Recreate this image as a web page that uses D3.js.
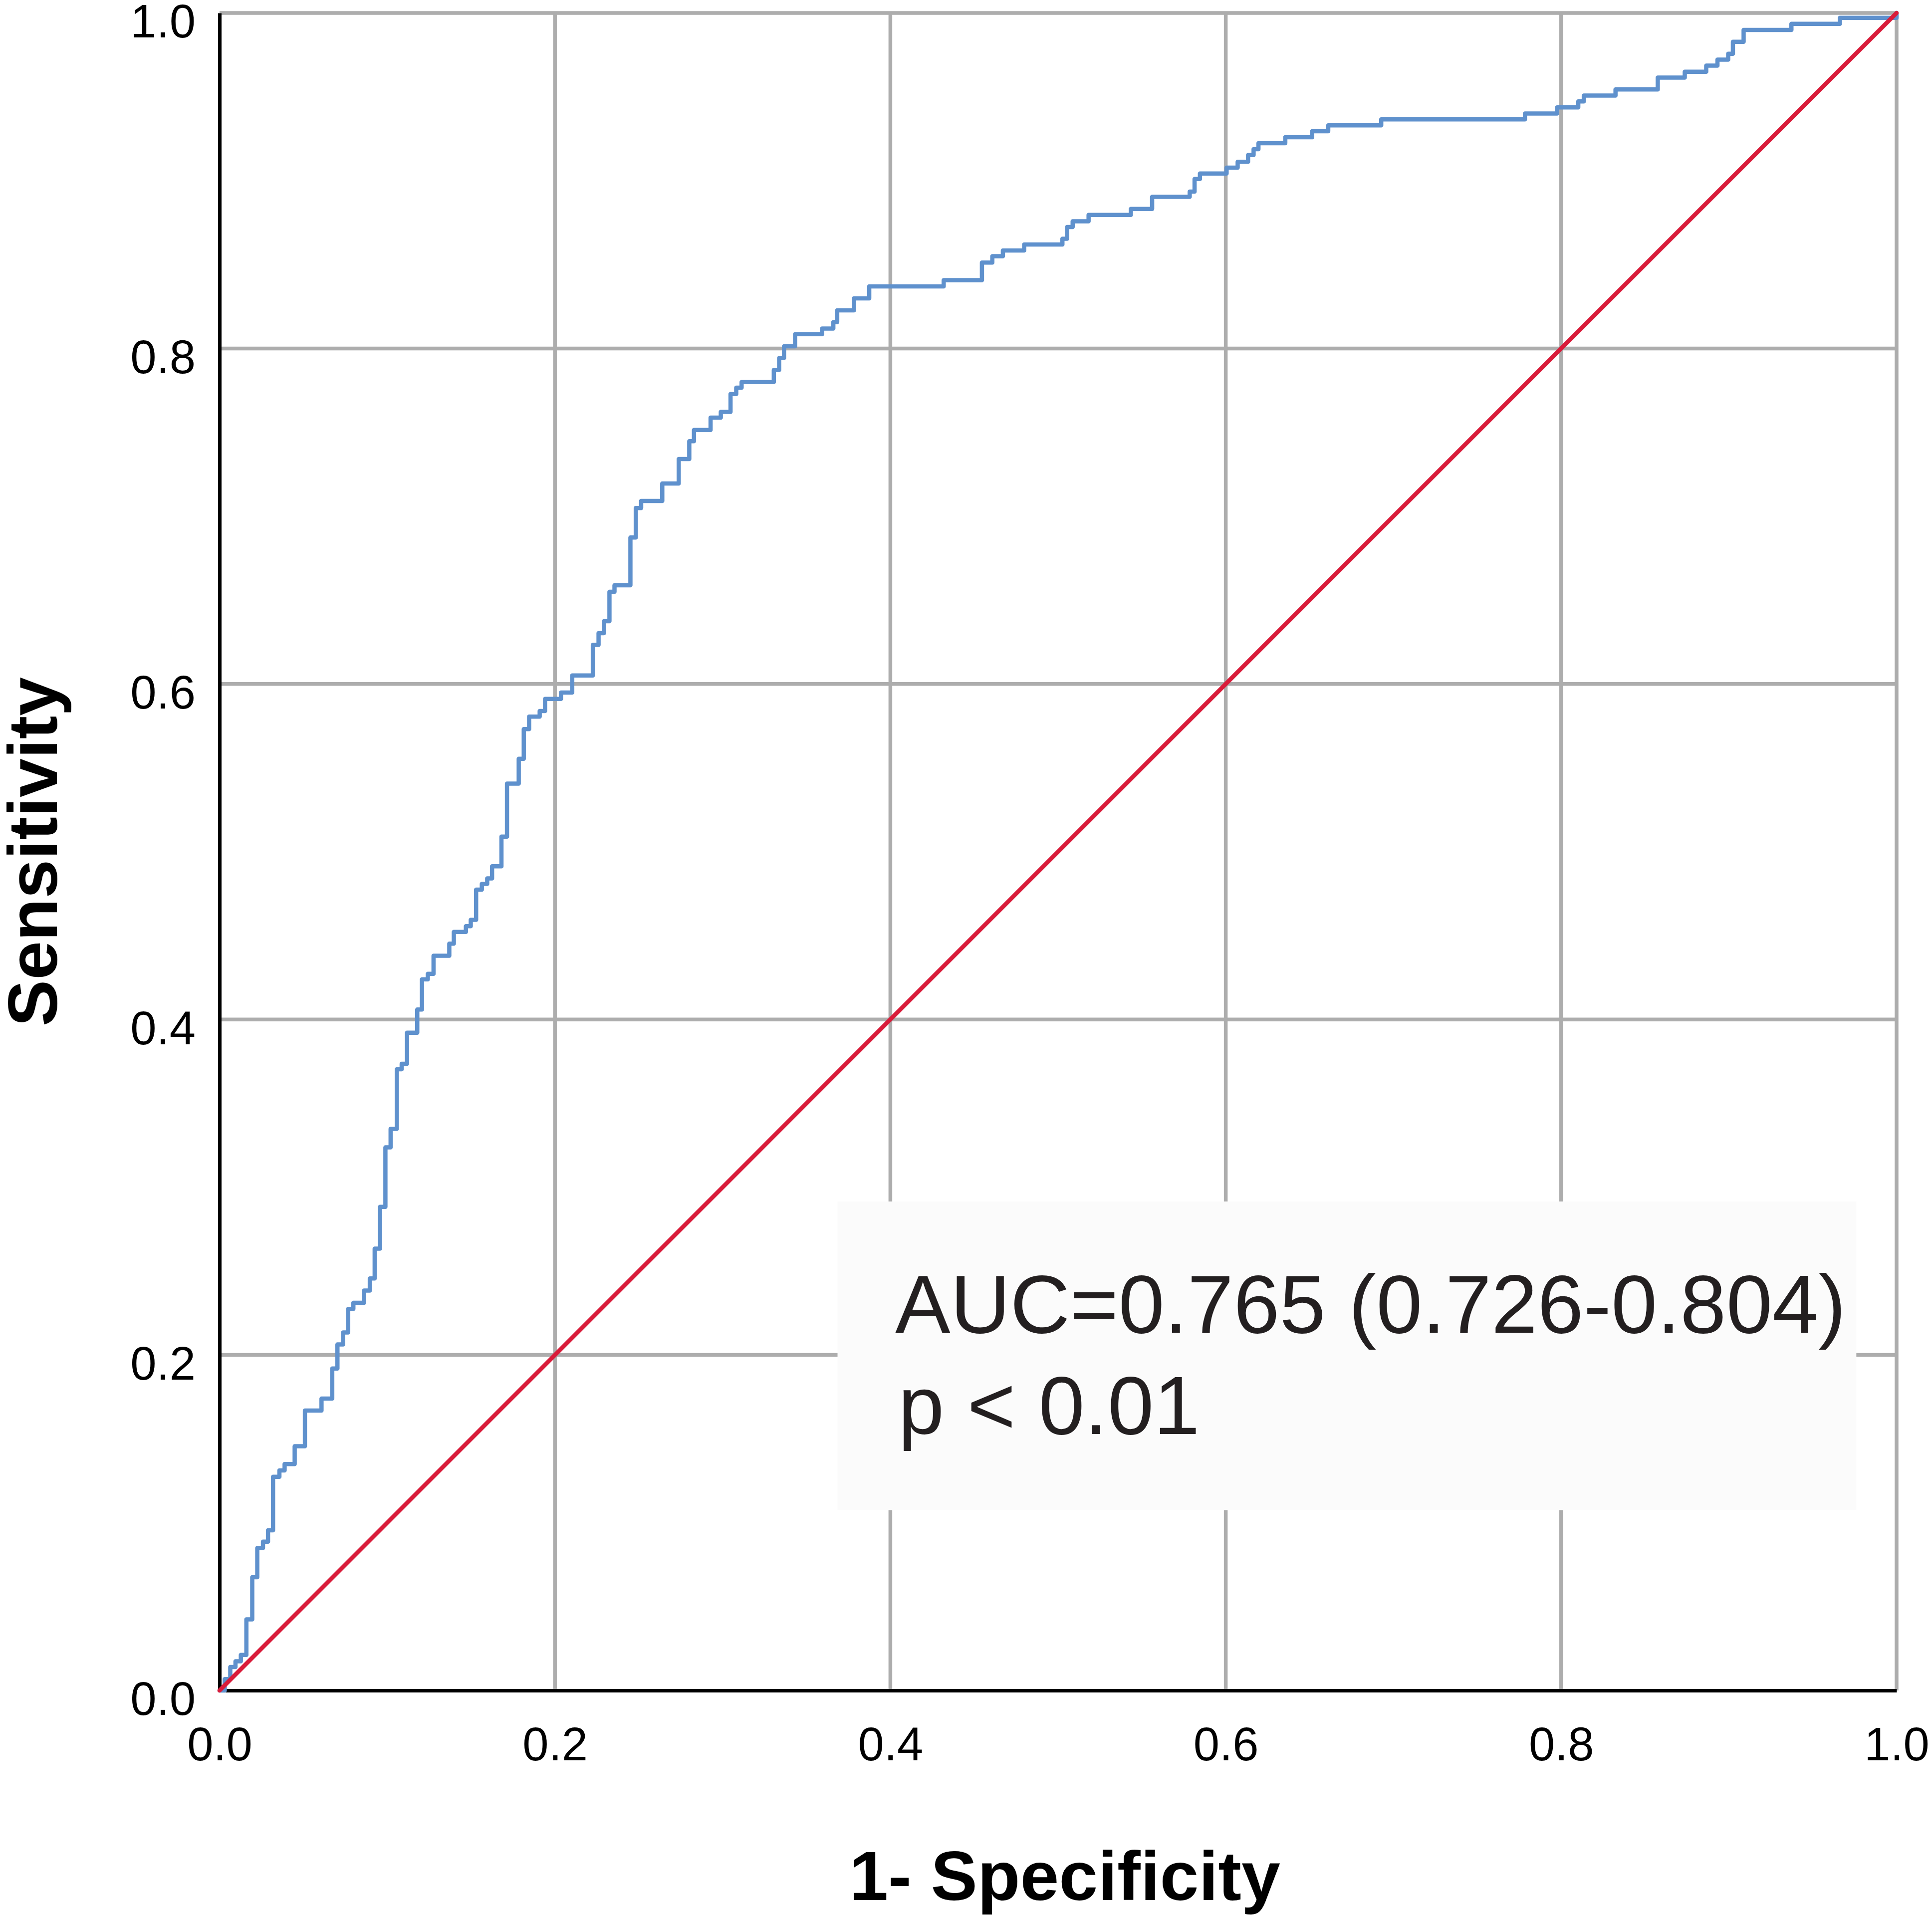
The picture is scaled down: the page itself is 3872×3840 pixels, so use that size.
<!DOCTYPE html>
<html lang="en">
<head>
    <meta charset="UTF-8">
    <title>ROC curve</title>
    <script src="https://d3js.org/d3.v7.min.js"></script>
</head>
<style>
    html,body{
        padding:0px;
        margin:0px;
        background:#ffffff;
    }
    svg text{
        font-family:"Liberation Sans",Arial,sans-serif;
    }
</style>
<body>
<div id="chart"></div>
<script>

    // 1 - specificity at each step of the ROC curve
    var fpr = [0, 0.0031, 0.0064, 0.0095, 0.0127, 0.0160, 0.0195, 0.0225, 0.0259, 0.0289,
        0.0319, 0.0357, 0.0388, 0.0448, 0.0509, 0.0608, 0.0672, 0.0703, 0.0737, 0.0767,
        0.0798, 0.0862, 0.0896, 0.0925, 0.0957, 0.0989, 0.1020, 0.1057, 0.1086, 0.1118,
        0.1179, 0.1207, 0.1242, 0.1276, 0.1370, 0.1397, 0.1469, 0.1498, 0.1530, 0.1564,
        0.1596, 0.1625, 0.1681, 0.1714, 0.1784, 0.1814, 0.1846, 0.1909, 0.1941, 0.2036,
        0.2103, 0.2226, 0.2260, 0.2292, 0.2325, 0.2355, 0.2450, 0.2482, 0.2514, 0.2640,
        0.2738, 0.2801, 0.2829, 0.2928, 0.2989, 0.3047, 0.3081, 0.3113, 0.3305, 0.3337,
        0.3366, 0.3432, 0.3593, 0.3660, 0.3683, 0.3783, 0.3874, 0.4318, 0.4546, 0.4608,
        0.4671, 0.4798, 0.5026, 0.5054, 0.5087, 0.5182, 0.5434, 0.5561, 0.5785, 0.5814,
        0.5846, 0.6005, 0.6071, 0.6133, 0.6166, 0.6195, 0.6355, 0.6515, 0.6611, 0.6927,
        0.7784, 0.7976, 0.8102, 0.8135, 0.8324, 0.8576, 0.8737, 0.8865, 0.8932, 0.8996,
        0.9024, 0.9088, 0.9373, 0.9662, 1.0];
    // sensitivity reached at each step
    var tpr = [0, 0.0068, 0.0140, 0.0174, 0.0212, 0.0424, 0.0675, 0.0849, 0.0887, 0.0955,
        0.1274, 0.1312, 0.1350, 0.1456, 0.1669, 0.1740, 0.1919, 0.2063, 0.2134, 0.2275,
        0.2311, 0.2384, 0.2456, 0.2634, 0.2883, 0.3238, 0.3348, 0.3703, 0.3736, 0.3921,
        0.4059, 0.4239, 0.4272, 0.4380, 0.4452, 0.4522, 0.4556, 0.4594, 0.4774, 0.4808,
        0.4841, 0.4913, 0.5090, 0.5406, 0.5554, 0.5731, 0.5805, 0.5839, 0.5911, 0.5949,
        0.6051, 0.6233, 0.6303, 0.6374, 0.6550, 0.6588, 0.6873, 0.7049, 0.7091, 0.7195,
        0.7341, 0.7447, 0.7514, 0.7588, 0.7622, 0.7728, 0.7766, 0.7800, 0.7872, 0.7943,
        0.8013, 0.8085, 0.8119, 0.8157, 0.8227, 0.8299, 0.8370, 0.8407, 0.8512, 0.8550,
        0.8584, 0.8620, 0.8654, 0.8724, 0.8758, 0.8796, 0.8832, 0.8904, 0.8935, 0.9010,
        0.9043, 0.9078, 0.9113, 0.9153, 0.9188, 0.9224, 0.9259, 0.9295, 0.9330, 0.9366,
        0.9401, 0.9437, 0.9473, 0.9508, 0.9544, 0.9615, 0.9650, 0.9686, 0.9722, 0.9757,
        0.9828, 0.9899, 0.9935, 0.9971, 1.0];

    var refLine = [[0, 0], [1, 1]];
    var ticks = [0, 0.2, 0.4, 0.6, 0.8, 1.0];
    var gridTicks = [0.2, 0.4, 0.6, 0.8, 1.0];
    var xTitle = "1- Specificity";
    var yTitle = "Sensitivity";
    var notes = ["AUC=0.765 (0.726-0.804)", "p < 0.01"];

    var W = 3872, H = 3840;
    // plot edges (window.top is read only, so no "top" here)
    var pLeft = 440, pRight = 3801, pTop = 26, pBottom = 3388;

    var x = d3.scaleLinear().domain([0, 1]).range([pLeft, pRight]);
    var y = d3.scaleLinear().domain([0, 1]).range([pBottom, pTop]);

    var svg = d3.select("#chart")
        .append("svg")
        .attr("width", W)
        .attr("height", H)
        .attr("viewBox", "0 0 " + W + " " + H);

    svg.append("rect").attr("width", W).attr("height", H).attr("fill", "#ffffff");

    // grid
    var grid = svg.append("g").attr("id", "grid");
    grid.selectAll("line.h")
        .data(gridTicks)
        .enter().append("line")
        .attr("class", "h")
        .attr("x1", pLeft).attr("x2", pRight)
        .attr("y1", function(d){ return y(d); })
        .attr("y2", function(d){ return y(d); })
        .attr("stroke", "#adadad")
        .attr("stroke-width", 7.5);
    grid.selectAll("line.v")
        .data(gridTicks)
        .enter().append("line")
        .attr("class", "v")
        .attr("y1", pTop).attr("y2", pBottom)
        .attr("x1", function(d){ return x(d); })
        .attr("x2", function(d){ return x(d); })
        .attr("stroke", "#adadad")
        .attr("stroke-width", 7.5);

    // text box hides the grid behind it
    svg.append("rect")
        .attr("x", x(0.3685))
        .attr("y", y(0.2915))
        .attr("width", x(0.976) - x(0.3685))
        .attr("height", y(0.1075) - y(0.2915))
        .attr("fill", "#fbfbfb");

    svg.append("g")
        .selectAll("text")
        .data(notes)
        .enter().append("text")
        .attr("x", function(d, i){ return i == 0 ? 1794 : 1800; })
        .attr("y", function(d, i){ return 2671 + i * 203; })
        .attr("font-size", 166)
        .attr("fill", "#231f20")
        .text(function(d){ return d; });

    // axes
    var xAxis = d3.axisBottom(x)
        .tickValues(ticks)
        .tickFormat(d3.format(".1f"))
        .tickSize(0)
        .tickSizeOuter(0)
        .tickPadding(73);
    var yAxis = d3.axisLeft(y)
        .tickValues(ticks)
        .tickFormat(d3.format(".1f"))
        .tickSize(0)
        .tickSizeOuter(0)
        .tickPadding(48);

    var gx = svg.append("g")
        .attr("transform", "translate(0," + pBottom + ")")
        .call(xAxis);
    var gy = svg.append("g")
        .attr("transform", "translate(" + pLeft + ",0)")
        .call(yAxis);

    [gx, gy].forEach(function(g){
        g.attr("font-size", 94).attr("font-family", "'Liberation Sans',Arial,sans-serif");
        g.select(".domain").attr("stroke", "#000000").attr("stroke-width", 7);
        g.selectAll("text")
            .attr("font-size", 94)
            .attr("fill", "#000000");
    });
    gy.selectAll("text").attr("dy", "0.52em");

    svg.append("text")
        .attr("x", 2134)
        .attr("y", 3808)
        .attr("text-anchor", "middle")
        .attr("font-size", 140)
        .attr("font-weight", "bold")
        .attr("fill", "#000000")
        .text(xTitle);

    svg.append("text")
        .attr("transform", "translate(114," + ((pTop + pBottom) / 2) + ") rotate(-90)")
        .attr("text-anchor", "middle")
        .attr("font-size", 140)
        .attr("font-weight", "bold")
        .attr("fill", "#000000")
        .text(yTitle);

    // ROC curve (step) and chance line
    var pts = fpr.map(function(d, i){ return [d, tpr[i]]; });
    var line = d3.line()
        .x(function(d){ return x(d[0]); })
        .y(function(d){ return y(d[1]); });

    svg.append("path")
        .attr("d", line.curve(d3.curveStepAfter)(pts))
        .attr("fill", "none")
        .attr("stroke", "#5f91cd")
        .attr("stroke-width", 8.5)
        .attr("stroke-linejoin", "round")
        .attr("stroke-linecap", "round");

    svg.append("path")
        .attr("d", line.curve(d3.curveLinear)(refLine))
        .attr("fill", "none")
        .attr("stroke", "#d91c3a")
        .attr("stroke-width", 8.5)
        .attr("stroke-linecap", "round");

</script>
</body>
</html>
